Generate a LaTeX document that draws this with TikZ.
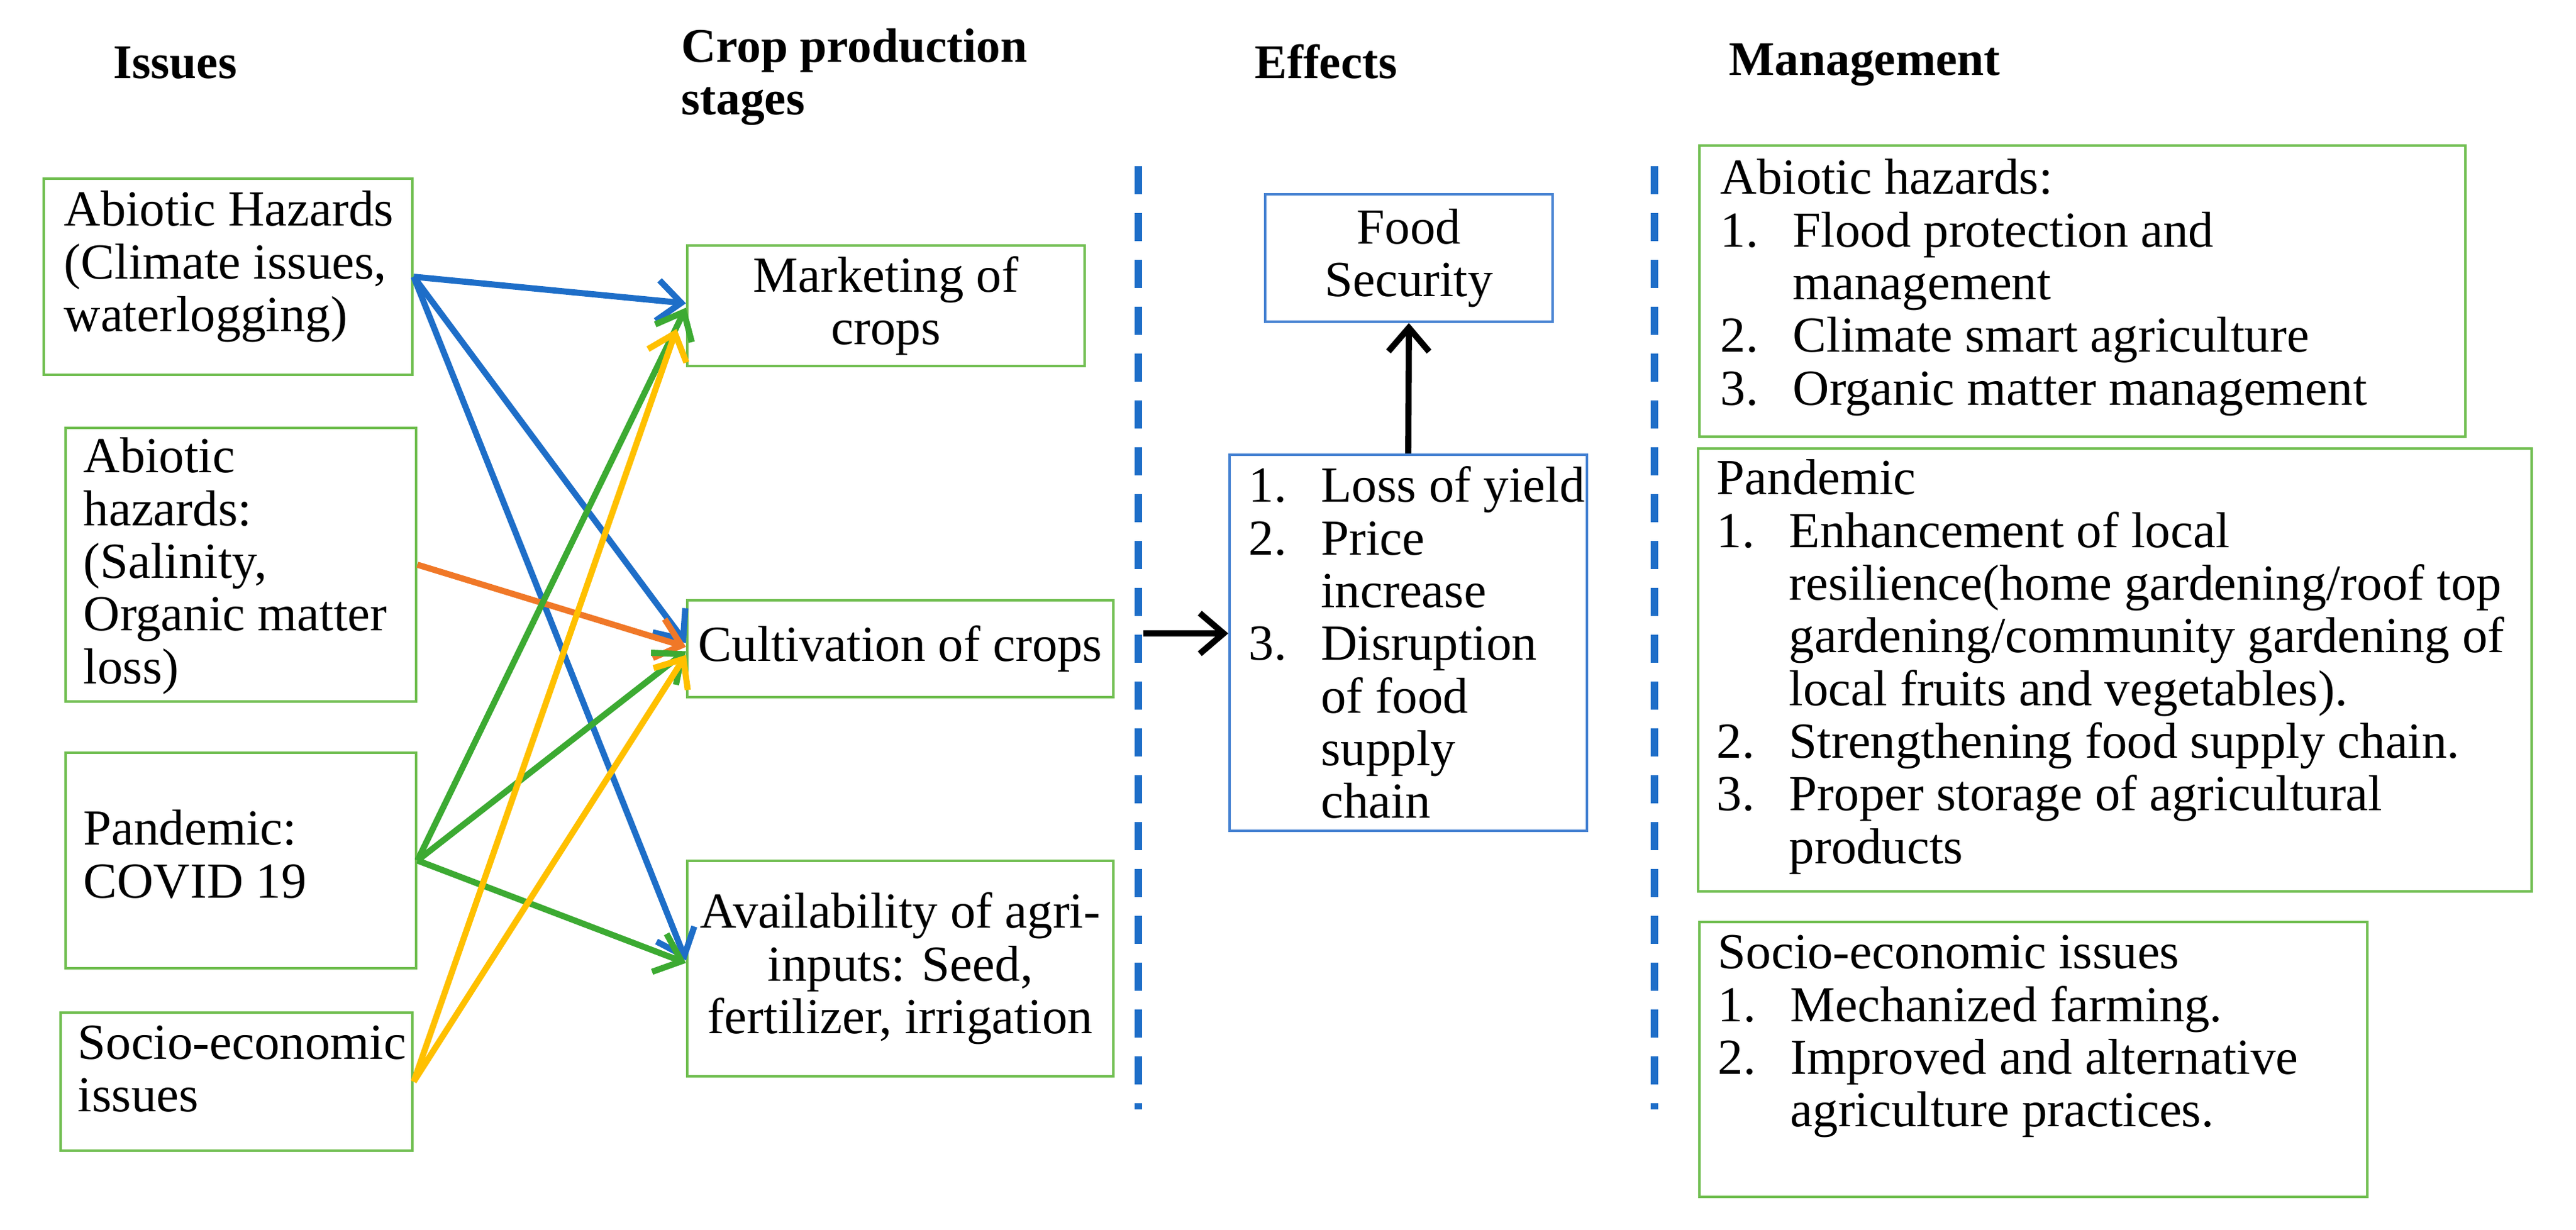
\documentclass[tikz,border=0pt]{standalone}
\usepackage{fontspec}
\setmainfont{Liberation Serif}
\newfontfamily\serifx{Liberation Serif}
\usetikzlibrary{arrows.meta}
\definecolor{bxgreen}{RGB}{112,190,80}
\definecolor{bxblue}{RGB}{70,130,210}
\definecolor{ablue}{RGB}{30,110,200}
\definecolor{aorange}{RGB}{240,120,40}
\definecolor{agreen}{RGB}{60,170,50}
\definecolor{ayellow}{RGB}{255,192,0}
\tikzset{
  gbox/.style={draw=bxgreen,line width=1.2pt,inner sep=0,align=center},
  bbox/.style={draw=bxblue,line width=1.2pt,inner sep=0,align=center},
  txt/.style={anchor=north west,inner sep=0,align=left},
  hdr/.style={anchor=base west,inner sep=0,font=\serifx\fontsize{22}{24}\selectfont\bfseries,align=left},
  conn/.style={line width=2.8pt,-{Straight Barb[length=0.38cm,width=0.65cm,line width=2.8pt]}},
  sep/.style={draw=ablue,line width=3.6pt,dash pattern=on 0.45cm off 0.3cm},
}
\begin{document}
\begin{tikzpicture}[font=\serifx\fontsize{23}{24}\selectfont]
\useasboundingbox (0,0) rectangle (41.23,-19.68);
% headers
\node[hdr] (h1) at (1.81,-1.25) {Issues};
\node[hdr,anchor=north west] (h2) at (10.90,-0.45) {Crop production\\stages};
\node[hdr] (h3) at (20.08,-1.25) {Effects};
\node[hdr] (h4) at (27.67,-1.20) {Management};
% issue boxes
\node[gbox,minimum width=5.9cm,minimum height=3.14cm] (A1) at (3.65,-4.43) {};
\node[gbox,minimum width=5.61cm,minimum height=4.38cm] (A2) at (3.855,-9.04) {};
\node[gbox,minimum width=5.61cm,minimum height=3.45cm] (A3) at (3.855,-13.775) {};
\node[gbox,minimum width=5.63cm,minimum height=2.21cm] (A4) at (3.785,-17.315) {};
\node[txt] (t1) at (1.02,-3.05) {Abiotic Hazards\\(Climate issues,\\waterlogging)};
\node[txt] (t2) at (1.33,-7.00) {Abiotic\\hazards:\\(Salinity,\\Organic matter\\loss)};
\node[txt] (t3) at (1.33,-12.96) {Pandemic:\\COVID 19};
\node[txt] (t4) at (1.24,-16.41) {Socio-economic\\issues};
% stages
\node[gbox,minimum width=6.36cm,minimum height=1.93cm] (M) at (14.18,-4.895) {Marketing of\\crops};
\node[gbox,minimum width=6.82cm,minimum height=1.55cm] (C) at (14.41,-10.385) {Cultivation of crops};
\node[gbox,minimum width=6.82cm,minimum height=3.45cm] (Av) at (14.41,-15.505) {Availability of agri-\\inputs: Seed,\\fertilizer, irrigation};
% effects
\node[bbox,minimum width=4.6cm,minimum height=2.04cm] (F) at (22.55,-4.13) {Food\\Security};
\node[bbox,minimum width=5.72cm,minimum height=6.02cm] (E) at (22.54,-10.29) {};
\node[txt] (te) at (19.98,-7.44) {\begin{tabular}{@{}l@{\hspace{0.55cm}}l@{}}
1. & Loss of yield\\
2. & Price\\
 & increase\\
3. & Disruption\\
 & of food\\
 & supply\\
 & chain
\end{tabular}};
% management
\node[gbox,minimum width=12.26cm,minimum height=4.66cm] (G1) at (33.33,-4.66) {};
\node[gbox,minimum width=13.34cm,minimum height=7.09cm] (G2) at (33.85,-10.725) {};
\node[gbox,minimum width=10.69cm,minimum height=4.4cm] (G3) at (32.545,-16.96) {};
\node[txt] (g1) at (27.53,-2.51) {\begin{tabular}{@{}p{1.16cm}@{}l@{}}
\multicolumn{2}{@{}l@{}}{Abiotic hazards:}\\
1. & Flood protection and\\
 & management\\
2. & Climate smart agriculture\\
3. & Organic matter management
\end{tabular}};
\node[txt] (g2) at (27.47,-7.32) {\begin{tabular}{@{}p{1.16cm}@{}l@{}}
\multicolumn{2}{@{}l@{}}{Pandemic}\\
1. & Enhancement of local\\
 & resilience(home gardening/roof top\\
 & gardening/community gardening of\\
 & local fruits and vegetables).\\
2. & Strengthening food supply chain.\\
3. & Proper storage of agricultural\\
 & products
\end{tabular}};
\node[txt] (g3) at (27.49,-14.91) {\begin{tabular}{@{}p{1.16cm}@{}l@{}}
\multicolumn{2}{@{}l@{}}{Socio-economic issues}\\
1. & Mechanized farming.\\
2. & Improved and alternative\\
 & agriculture practices.
\end{tabular}};
% separators
\coordinate (d1t) at (18.22,-2.66); \coordinate (d1b) at (18.22,-17.76);
\coordinate (d2t) at (26.48,-2.66); \coordinate (d2b) at (26.48,-17.76);
\draw[sep] (d1t) -- (d1b);
\draw[sep] (d2t) -- (d2b);
% connectors
\draw[conn,ablue] (A1.east) -- ([yshift=0.04cm]M.west);
\draw[conn,ablue] (A1.east) -- ([yshift=0.09cm]C.west);
\draw[conn,ablue] (A1.east) -- ([yshift=0.13cm]Av.west);
\draw[conn,aorange] (A2.east) -- ([yshift=0.03cm]C.west);
\draw[conn,agreen] (A3.east) -- ([yshift=-0.03cm]M.west);
\draw[conn,agreen] (A3.east) -- ([yshift=-0.04cm]C.west);
\draw[conn,agreen] (A3.east) -- ([yshift=0.09cm]Av.west);
\draw[conn,ayellow] (A4.east) -- ([xshift=-0.15cm,yshift=-0.37cm]M.west);
\draw[conn,ayellow] (A4.east) -- ([yshift=-0.1cm]C.west);
\coordinate (ba) at (18.30,-10.14);
\draw[conn,black] (ba) -- (E.west |- ba);
\draw[conn,black] (E.north) -- (F.south);
\end{tikzpicture}
\end{document}
